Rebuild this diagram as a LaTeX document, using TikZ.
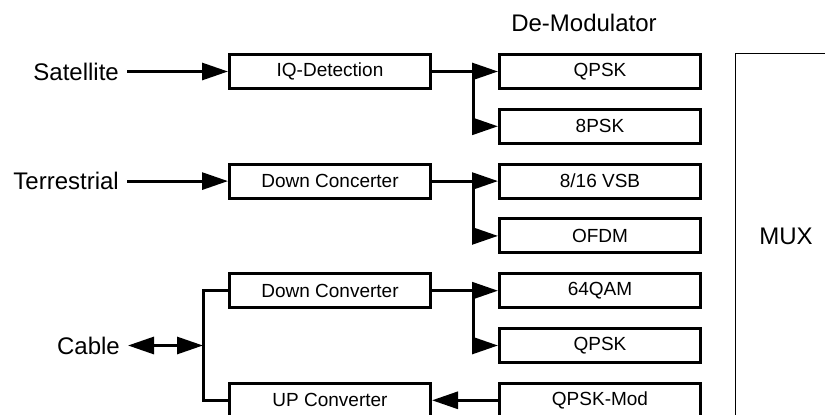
\documentclass[tikz,border=0pt]{standalone}
\usepackage{fontspec}
\setmainfont{Liberation Sans}
\usetikzlibrary{arrows.meta}
\begin{document}
\begin{tikzpicture}[x=1pt,y=-1pt,
  box/.style={draw, line width=3pt, minimum width=201pt, minimum height=34pt, inner sep=0pt, font=\fontsize{19}{22}\selectfont},
  lab/.style={inner sep=0pt, inner xsep=8pt, font=\fontsize{24}{28}\selectfont},
  wire/.style={line width=3pt},
  arr/.style={wire, -{Triangle[length=26pt,width=17pt]}},
  darr/.style={wire, {Triangle[length=26pt,width=17pt]}-{Triangle[length=26pt,width=17pt]}}
]
\useasboundingbox (0,0) rectangle (825,415);
\clip (0,0) rectangle (825,415);
% left boxes
\node[box] (iq) at (330,71.5) {IQ-Detection};
\node[box] (dt) at (330,181.1) {Down Concerter};
\node[box] (dc) at (330,290.7) {Down Converter};
\node[box] (up) at (330,400.3) {UP Converter};
% right boxes
\node[box] (q1) at (600,71.5) {QPSK};
\node[box] (p8) at (600,126.3) {8PSK};
\node[box] (vsb) at (600,181.1) {8/16 VSB};
\node[box] (ofdm) at (600,235.9) {OFDM};
\node[box] (qam) at (600,290.7) {64QAM};
\node[box] (q2) at (600,345.5) {QPSK};
\node[box] (qmod) at (600,400.3) {QPSK-Mod};
% MUX
\node[draw, line width=1pt, minimum width=102pt, minimum height=367pt, inner sep=0pt,
      font=\fontsize{24}{28}\selectfont] (mux) at (786,236.5) {MUX};
% labels
\node[font=\fontsize{24}{28}\selectfont] (demod) at (584,23) {De-Modulator};
\node[lab, anchor=east] (sat) at (127,71.5) {Satellite};
\node[lab, anchor=east] (ter) at (127,181.1) {Terrestrial};
\node[lab, anchor=east] (cab) at (128,345.5) {Cable};
% junctions
\coordinate (b1) at (473,71.5);
\coordinate (b2) at (473,181.1);
\coordinate (b3) at (473,290.7);
\coordinate (cj) at (203,345.5);
% connectors
\draw[arr] (sat.east) -- (iq.west);
\draw[arr] (ter.east) -- (dt.west);
\draw[arr] (iq.east) -- (q1.west);
\draw[arr] (b1) |- (p8.west);
\draw[arr] (dt.east) -- (vsb.west);
\draw[arr] (b2) |- (ofdm.west);
\draw[arr] (dc.east) -- (qam.west);
\draw[arr] (b3) |- (q2.west);
\draw[arr] (qmod.west) -- (up.east);
\draw[darr] (cab.east) -- (cj);
\draw[wire, line join=miter] (dc.west) -| (cj) |- (up.west);
\end{tikzpicture}
\end{document}
